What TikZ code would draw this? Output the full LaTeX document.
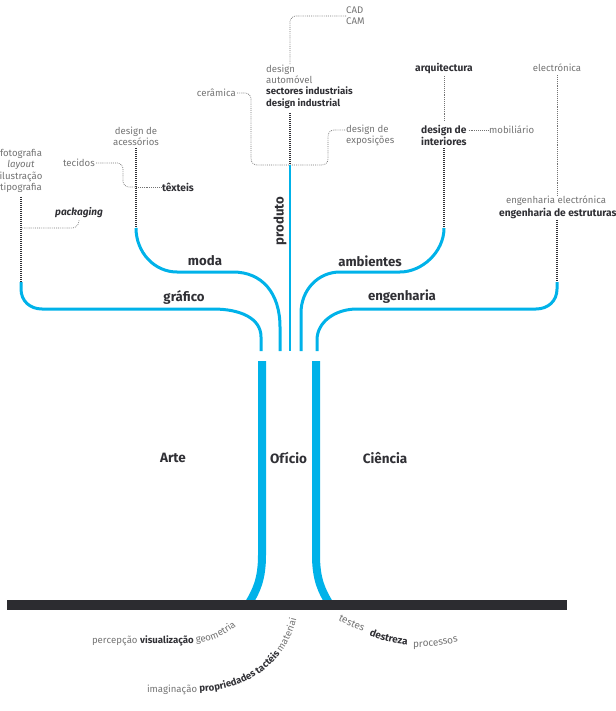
\documentclass[tikz,border=0pt]{standalone}
\usepackage{fontspec}
\setmainfont{Fira Sans}
\usetikzlibrary{decorations.text}
\definecolor{tblue}{HTML}{00B2E9}
\definecolor{tgray}{HTML}{737373}
\definecolor{tdark}{HTML}{303035}
\definecolor{tbar}{HTML}{2C2C30}
\newcommand\rfont{\fontsize{9.6}{11}\selectfont}
\newcommand\qfont{\fontsize{10}{11}\selectfont}
\begin{document}
\begin{tikzpicture}[x=1pt,y=-1pt,
 sm/.style={font=\fontsize{9.6}{11.3}\selectfont, text=tgray, inner sep=0pt},
 smb/.style={font=\fontsize{10.2}{11.3}\selectfont\bfseries, text=tdark, inner sep=0pt},
 lab/.style={font=\fontsize{13.2}{15}\selectfont\bfseries, text=tdark, inner sep=0pt},
 big/.style={font=\fontsize{13.5}{15}\selectfont\bfseries, text=tdark, inner sep=0pt},
 branch/.style={draw=tblue, line width=3pt},
 trunk/.style={draw=tblue, line width=8pt},
 stem/.style={draw=tdark, line width=2.2pt, dash pattern=on 1.1pt off 0.9pt},
 link/.style={draw=tgray, line width=0.7pt, dash pattern=on 0.8pt off 1.1pt, rounded corners=6pt},
]
\useasboundingbox (0,0) rectangle (615,711);

% ---------- text nodes ----------
\node[sm, anchor=west, align=left] (cadcam) at (346,16) {CAD\\CAM};
\node[sm, anchor=north west, align=left] (prod) at (266,64.5) {design\\automóvel\\\textbf{\color{tdark}sectores industriais}\\\textbf{\color{tdark}design industrial}};
\node[sm, anchor=east] (ceram) at (236,93) {cerâmica};
\node[sm, anchor=west] (expo1) at (346,130) {design de};
\node[sm, anchor=west] (expo2) at (346,141) {exposições};
\node[smb] (arq) at (444,68) {arquitectura};
\node[smb, anchor=west] (dint1) at (421,130) {design de};
\node[smb, anchor=west] (dint2) at (421,141) {interiores};
\node[sm, anchor=west] (mob) at (489,130) {mobiliário};
\node[sm] (elec) at (557,68) {electrónica};
\node[sm] (engel) at (556,201) {engenharia electrónica};
\node[smb, anchor=west] (engest) at (499,213) {engenharia de estruturas};
\node[sm, align=center] (foto) at (21,171) {fotografia\\\textit{layout}\\ilustração\\tipografia};
\node[smb, font=\fontsize{10}{11.3}\selectfont\bfseries\itshape] (pack) at (79,213) {packaging};
\node[sm, align=center] (acess) at (136,136) {design de\\acessórios};
\node[sm, anchor=east] (tec) at (95,163) {tecidos};
\node[smb, anchor=west] (tex) at (162,187) {têxteis};

\node[lab] (moda) at (205,261) {moda};
\node[lab] (graf) at (184,297) {gráfico};
\node[lab] (amb) at (370,261) {ambientes};
\node[lab] (eng) at (402,297) {engenharia};
\node[lab, rotate=90] (produto) at (280,221) {produto};

\node[big] (arte) at (173,458) {Arte};
\node[big] (oficio) at (288.5,458) {Ofício};
\node[big] (ciencia) at (385,458) {Ciência};

% ---------- junction coordinates ----------
\coordinate (g0) at (21,282);
\coordinate (m0) at (136,228);
\coordinate (p0) at (290,165);
\coordinate (a0) at (444,228);
\coordinate (e0) at (557,282);
\coordinate (gj) at (21,228);
\coordinate (mj) at (136,187);

% ---------- dark stems ----------
\draw[stem] (21,197) -- (g0);
\draw[stem] (136,148) -- (m0);
\draw[stem] (290,113) -- (p0);
\draw[stem] (444,148) -- (a0);
\draw[stem] (557,220) -- (e0);

% ---------- light dotted links ----------
\draw[link] (cadcam.west) -- (290,16) -- (290,65);
\draw[link] ([xshift=1pt]ceram.east) -- (251,93) -- (251,165) -- (p0);
\draw[link] ([xshift=-1pt]expo1.west) -- (328,130) -- (328,165) -- (p0);
\draw[link] ([yshift=-3pt]arq.south) -- (444,122);
\draw[link] ([xshift=2pt]dint1.east) -- ([xshift=-1pt]mob.west);
\draw[link] ([yshift=-3pt]elec.south) -- (557,195);
\draw[link] ([xshift=1pt]tec.east) -- (123,163) -- (123,187) -- (mj);
\draw[link] (mj) -- ([xshift=-1pt]tex.west);
\draw[link] ([yshift=-2pt]pack.south) -- (78,228) -- (gj);

% ---------- blue branches ----------
\draw[branch] (g0) -- (21,289) .. controls (21,301) and (30,309) .. (42,309) -- (213,309) .. controls (240,309) and (261,318) .. (261,337) -- (261,351);
\draw[branch] (m0) .. controls (136,252) and (154,272) .. (177,272) -- (233,272) .. controls (262,272) and (280,293) .. (280,327) -- (280,351);
\draw[branch, line width=2.6pt] (p0) -- (290,351);
\draw[branch] (a0) .. controls (444,252) and (422,272) .. (400,272) -- (340,272) .. controls (318,272) and (301,290) .. (301,313) -- (301,351);
\draw[branch] (e0) -- (557,289) .. controls (557,301) and (548,309) .. (536,309) -- (357,309) .. controls (335,309) and (317,322) .. (317,340) -- (317,351);

% ---------- trunk ----------
\draw[trunk] (262,361) -- (262,555) .. controls (262,580) and (256,591) .. (249,603);
\draw[trunk] (316,361) -- (316,555) .. controls (316,580) and (322,591) .. (329,603);

% ---------- ground ----------
\fill[tbar] (7,600) rectangle (567,609.5);

% ---------- roots text ----------
\path[decorate, decoration={text along path, text align=left,
 text={|\rfont\color{tgray}|percepção |\rfont\bfseries\color{tdark}|visualização |\rfont\color{tgray}|geometria}}]
 (92,643) -- (193,643) .. controls (212,643) and (232,634) .. (256,607);
\path[decorate, decoration={text along path, text align=left,
 text={|\rfont\color{tgray}|imaginação |\rfont\bfseries\color{tdark}|propriedades tactéis |\rfont\color{tgray}|materiai}}]
 (147,692) -- (193,692) .. controls (245,692) and (296,664) .. (300,596);
\path[decorate, decoration={text along path, text align=left,
 text={|\qfont\color{tgray}|testes}}]
 (338,620) .. controls (350,626) .. (366,633);
\path[decorate, decoration={text along path, text align=left,
 text={|\qfont\bfseries\color{tdark}|destreza}}]
 (369,635) .. controls (390,643) .. (414,645.5);
\path[decorate, decoration={text along path, text align=left,
 text={|\qfont\color{tgray}|processos}}]
 (413,647) .. controls (435,647) .. (466,640);
\end{tikzpicture}
\end{document}
